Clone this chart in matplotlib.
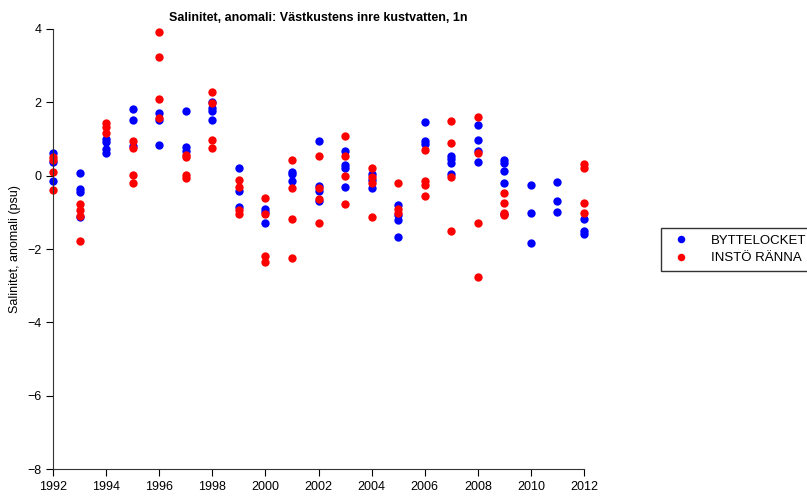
import matplotlib
matplotlib.use("Agg")
import matplotlib.pyplot as plt

plt.rcParams['font.family'] = ['Liberation Sans', 'DejaVu Sans']

# data: (year, anomaly)
blue_years = [1992, 1992, 1992,
              1993, 1993, 1993, 1993,
              1994, 1994, 1994, 1994,
              1995, 1995, 1995,
              1996, 1996, 1996,
              1997, 1997, 1997,
              1998, 1998, 1998, 1998,
              1999, 1999, 1999,
              2000, 2000, 2000,
              2001, 2001, 2001,
              2002, 2002, 2002, 2002,
              2003, 2003, 2003, 2003,
              2004, 2004, 2004,
              2005, 2005, 2005, 2005,
              2006, 2006, 2006,
              2007, 2007, 2007, 2007,
              2008, 2008, 2008, 2008,
              2009, 2009, 2009, 2009, 2009,
              2010, 2010, 2010,
              2011, 2011, 2011,
              2012, 2012, 2012]
blue_vals = [0.62, 0.38, -0.14,
             0.07, -0.36, -0.44, -1.12,
             1.0, 0.92, 0.72, 0.63,
             1.83, 1.52, 0.8,
             1.72, 1.52, 0.83,
             1.77, 0.77, 0.68,
             2.02, 1.84, 1.75, 1.52,
             0.2, -0.41, -0.85,
             -0.92, -1.0, -1.28,
             0.11, 0.05, -0.15,
             0.95, -0.28, -0.42, -0.69,
             0.66, 0.29, 0.2, -0.31,
             0.05, -0.12, -0.34,
             -0.81, -1.07, -1.21, -1.68,
             1.47, 0.95, 0.86,
             0.54, 0.45, 0.35, 0.05,
             1.38, 0.98, 0.68, 0.38,
             0.43, 0.34, 0.13, -0.19, -1.05,
             -0.26, -1.03, -1.83,
             -0.16, -0.7, -0.98,
             -1.17, -1.51, -1.6]

red_years = [1992, 1992, 1992, 1992,
             1993, 1993, 1993, 1993,
             1994, 1994, 1994,
             1995, 1995, 1995, 1995,
             1996, 1996, 1996, 1996,
             1997, 1997, 1997, 1997,
             1998, 1998, 1998, 1998,
             1999, 1999, 1999, 1999,
             2000, 2000, 2000, 2000,
             2001, 2001, 2001, 2001,
             2002, 2002, 2002, 2002,
             2003, 2003, 2003, 2003,
             2004, 2004, 2004, 2004,
             2005, 2005, 2005,
             2006, 2006, 2006, 2006,
             2007, 2007, 2007, 2007,
             2008, 2008, 2008, 2008,
             2009, 2009, 2009, 2009,
             2012, 2012, 2012, 2012]
red_vals = [0.5, 0.43, 0.11, -0.39,
            -0.77, -0.94, -1.09, -1.77,
            1.43, 1.32, 1.17,
            0.95, 0.76, 0.02, -0.21,
            3.93, 3.24, 2.09, 1.57,
            0.57, 0.5, 0.01, -0.06,
            2.29, 1.97, 0.97, 0.76,
            -0.13, -0.3, -0.95, -1.05,
            -0.61, -1.05, -2.19, -2.35,
            0.42, -0.34, -1.17, -2.24,
            0.53, -0.34, -0.64, -1.3,
            1.09, 0.54, -0.02, -0.77,
            0.21, -0.03, -0.21, -1.14,
            -0.19, -0.92, -1.01,
            0.7, -0.14, -0.25, -0.56,
            1.48, 0.9, -0.04, -1.5,
            1.59, 0.63, -1.3, -2.77,
            -0.46, -0.75, -1.01, -1.07,
            0.32, 0.2, -0.74, -1.01]

labels = ["BYTTELOCKET", "INSTÖ RÄNNA"]
x_ticks = list(range(1992, 2013, 2))
y_ticks = [-8, -6, -4, -2, 0, 2, 4]

fig = plt.figure(figsize=(8.07, 4.99), dpi=100)
ax = fig.add_axes([0.0657, 0.0601, 0.658, 0.8818])

ax.plot(blue_years, blue_vals, "o", color="#0000ff", ms=6, mec="none", label=labels[0], clip_on=False)
ax.plot(red_years, red_vals, "o", color="#ff0000", ms=6, mec="none", label=labels[1], clip_on=False)

ax.set_xlim(1992, 2012)
ax.set_ylim(-8, 4)
ax.set_xticks(x_ticks)
ax.set_yticks(y_ticks)
ax.tick_params(labelsize=9, length=5, width=0.8, direction="out")
ax.spines["top"].set_visible(False)
ax.spines["right"].set_visible(False)
for s in ("left", "bottom"):
    ax.spines[s].set_linewidth(0.8)
    ax.spines[s].set_color("#333333")

ax.set_ylabel("Salinitet, anomali (psu)", fontsize=9)
ax.set_title("Salinitet, anomali: Västkustens inre kustvatten, 1n", fontsize=9, fontweight="bold")

# legend box runs past the right edge, as in the original
leg = fig.legend(loc="upper left", bbox_to_anchor=(661 / 807, 1 - 228 / 499),
                 borderaxespad=0, fontsize=9.5, frameon=True, fancybox=False,
                 edgecolor="black", handlelength=2.0, handletextpad=1.3,
                 borderpad=0.5, labelspacing=0.4, markerscale=0.9)
leg.get_frame().set_linewidth(1.0)

fig.savefig("out.png", dpi=100)
